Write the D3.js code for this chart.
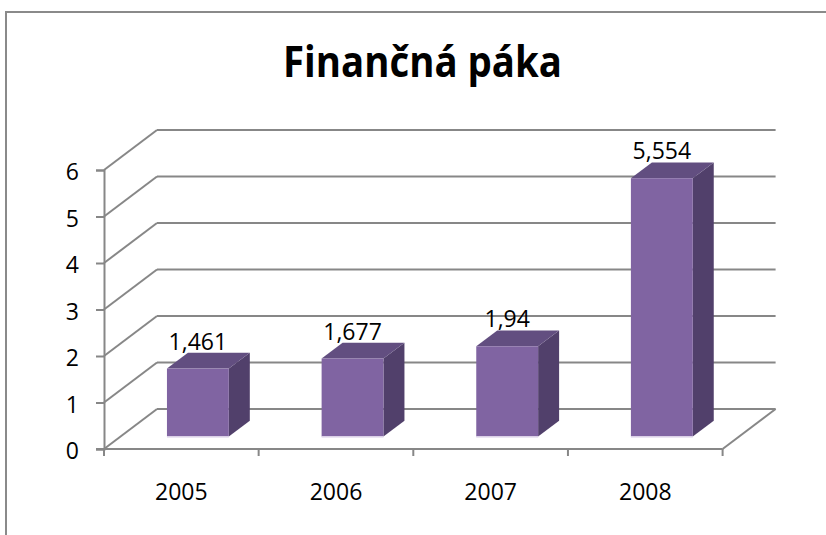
<!DOCTYPE html>
<html>
<head>
<meta charset="utf-8">
<script src="https://cdn.jsdelivr.net/npm/d3@7"></script>
<style>
  html, body { margin: 0; padding: 0; background: #fff; }
  svg { display: block; }
</style>
</head>
<body>
<svg id="chart" width="826" height="535"></svg>
<script>
const title = "Finančná páka";
const categories = ["2005", "2006", "2007", "2008"];
const values = [1.461, 1.677, 1.94, 5.554];
const valueLabels = ["1,461", "1,677", "1,94", "5,554"];
const yTicks = [0, 1, 2, 3, 4, 5, 6];

const svg = d3.select("#chart");
const W = 826, H = 535;
const gridColor = "#878787";
const font = "'Open Sans', 'Noto Sans', sans-serif";
const labelSize = 23;

// 3D geometry: front plane and depth offset
const depthDX = 53, depthDY = -40;
const off = f => [depthDX * f, depthDY * f];
const barFront = 0.3125, barDepth = 0.396;

const x = d3.scaleBand().domain(categories).range([104, 722.6]).padding(0);
const xBar = d3.scaleBand().domain(categories).range([104, 722.6]).paddingInner(0.6).paddingOuter(0.3);
const y = d3.scaleLinear().domain([0, 6]).range([449, 170]);

// frame
svg.append("path")
  .attr("d", `M6,${H + 2} L6,12 L${W + 2},12`)
  .attr("fill", "none").attr("stroke", "#8a8a8a").attr("stroke-width", 2);

// title
svg.append("text")
  .attr("x", 422.5).attr("y", 77)
  .attr("text-anchor", "middle")
  .attr("font-family", font).attr("font-weight", "bold")
  .attr("font-size", 43)
  .attr("textLength", 279).attr("lengthAdjust", "spacingAndGlyphs")
  .attr("fill", "#000")
  .text(title);

const g = svg.append("g");
const [bdx, bdy] = off(1);
const x0 = x.range()[0], x1 = x.range()[1];

// back wall gridlines and side wall diagonals
yTicks.forEach(t => {
  const yy = y(t);
  g.append("line")
    .attr("x1", x0 + bdx).attr("y1", yy + bdy)
    .attr("x2", x1 + bdx).attr("y2", yy + bdy)
    .attr("stroke", gridColor).attr("stroke-width", 2);
  g.append("line")
    .attr("x1", x0).attr("y1", yy)
    .attr("x2", x0 + bdx).attr("y2", yy + bdy)
    .attr("stroke", gridColor).attr("stroke-width", 2);
});
// floor right edge
g.append("line")
  .attr("x1", x1).attr("y1", y(0))
  .attr("x2", x1 + bdx).attr("y2", y(0) + bdy)
  .attr("stroke", gridColor).attr("stroke-width", 2);

// bars
const [fdx, fdy] = off(barFront);
const [ddx, ddy] = off(barDepth);
const bw = xBar.bandwidth();
const bars = g.selectAll("g.bar").data(categories.map((c, i) => ({ c, v: values[i], label: valueLabels[i] })))
  .enter().append("g").attr("class", "bar");

bars.each(function (d) {
  const sel = d3.select(this);
  const left = xBar(d.c) + fdx, right = left + bw;
  const top = y(d.v) + fdy, bottom = y(0) + fdy;
  // side face
  sel.append("path")
    .attr("d", `M${right},${top} L${right + ddx},${top + ddy} L${right + ddx},${bottom + ddy} L${right},${bottom} Z`)
    .attr("fill", "#51406b");
  // top face
  sel.append("path")
    .attr("d", `M${left},${top} L${left + ddx},${top + ddy} L${right + ddx},${top + ddy} L${right},${top} Z`)
    .attr("fill", "#624e80");
  // front face
  sel.append("rect")
    .attr("x", left).attr("y", top)
    .attr("width", bw).attr("height", bottom - top)
    .attr("fill", "#8064a2");
  sel.append("line")
    .attr("x1", left).attr("x2", right)
    .attr("y1", bottom + 0.5).attr("y2", bottom + 0.5)
    .attr("stroke", "#e4dcef").attr("stroke-width", 1.5);
  // value label
  sel.append("text")
    .attr("x", left + bw / 2).attr("y", top + ddy - 3)
    .attr("text-anchor", "middle")
    .attr("font-family", font).attr("font-size", labelSize)
    .attr("fill", "#000")
    .text(d.label);
});

// front floor baseline
g.append("line")
  .attr("x1", x0 - 8).attr("y1", y(0))
  .attr("x2", x1).attr("y2", y(0))
  .attr("stroke", gridColor).attr("stroke-width", 2);

// y axis
const yAxis = d3.axisLeft(y).tickValues(yTicks).tickSize(8).tickPadding(10).tickFormat(d3.format("d"));
const ya = svg.append("g").attr("transform", `translate(${x0},0)`).call(yAxis);
ya.select(".domain").attr("stroke", gridColor).attr("stroke-width", 2);
ya.selectAll(".tick line").attr("stroke", gridColor).attr("stroke-width", 2);
ya.selectAll(".tick text")
  .attr("font-family", font).attr("font-size", labelSize).attr("fill", "#000")
  .attr("x", -25).attr("dy", "0.42em");

// x axis
const xAxis = d3.axisBottom(x).tickSize(0).tickPadding(0);
const xa = svg.append("g").attr("transform", `translate(0,${y(0)})`).call(xAxis);
xa.select(".domain").remove();
xa.selectAll(".tick text")
  .attr("font-family", font).attr("font-size", labelSize).attr("fill", "#000")
  .attr("dy", 0).attr("y", 51);
// category boundary ticks
const bounds = categories.map(c => x(c)).concat([x1]);
xa.selectAll("line.cat").data(bounds).enter().append("line").attr("class", "cat")
  .attr("x1", d => d).attr("x2", d => d)
  .attr("y1", 0).attr("y2", 7)
  .attr("stroke", gridColor).attr("stroke-width", 2);
</script>
</body>
</html>
